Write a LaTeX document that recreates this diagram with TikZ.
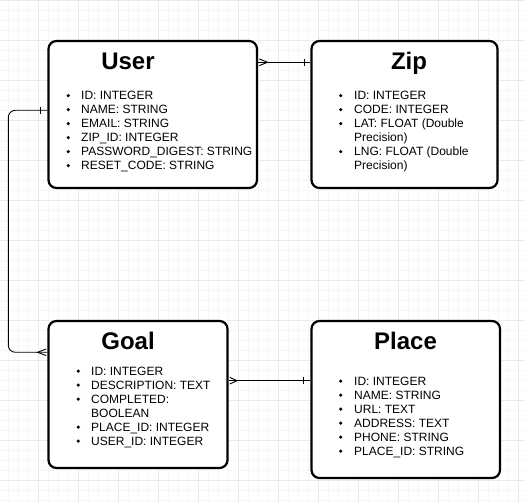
\documentclass[tikz,border=0pt]{standalone}
\usepackage{fontspec}
\setmainfont{Liberation Sans}
\usetikzlibrary{calc}
\definecolor{gridmajor}{HTML}{EAEAEA}
\definecolor{gridminor}{HTML}{F6F6F6}
\begin{document}
\begin{tikzpicture}[x=1pt,y=-1pt,
  entity/.style={draw=black, line width=2.2pt, rounded corners=8pt, fill=white, inner sep=0pt},
  etitle/.style={font=\fontsize{24}{24}\selectfont\bfseries, anchor=base, inner sep=0pt},
  item/.style={font=\fontsize{12}{14}\selectfont, anchor=base west, inner sep=0pt},
  conn/.style={draw=black, line width=0.9pt},
  bul/.style={fill=black}]
\useasboundingbox (0,0) rectangle (525,502);
% grid
\foreach \x in {8.5,18.5,...,518.5} \draw[gridminor, line width=1pt] (\x,0) -- (\x,502);
\foreach \y in {10.5,20.5,...,500.5} \draw[gridminor, line width=1pt] (0,\y) -- (525,\y);
\foreach \x in {38.5,78.5,...,518.5} \draw[gridmajor, line width=1pt] (\x,0) -- (\x,502);
\foreach \y in {0.5,40.5,...,480.5} \draw[gridmajor, line width=1pt] (0,\y) -- (525,\y);

% entities
\node[entity, minimum width=208.5pt, minimum height=147pt] (user) at (152.75,114.5) {};
\node[entity, minimum width=186pt, minimum height=147pt] (zip) at (404.5,114.5) {};
\node[entity, minimum width=179pt, minimum height=147pt] (goal) at (138,394.5) {};
\node[entity, minimum width=188.5pt, minimum height=157pt] (place) at (405.75,399.5) {};

% titles
\node[etitle] (usert) at (128,69.5) {User};
\node[etitle] (zipt) at (409,69.5) {Zip};
\node[etitle] (goalt) at (128,349.5) {Goal};
\node[etitle] (placet) at (405.5,349.5) {Place};

% User items
\foreach \t [count=\i from 0] in {ID: INTEGER, NAME: STRING, EMAIL: STRING, ZIP\_ID: INTEGER, PASSWORD\_DIGEST: STRING, RESET\_CODE: STRING} {
  \node[item] (useri\i) at (81,{100+14*\i}) {\t};
  \fill[bul] (68.3,{95.6+14*\i}) circle (1.75pt);
}
% Zip items
\node[item] (zipi0) at (354,100) {ID: INTEGER};
\node[item] (zipi1) at (354,114) {CODE: INTEGER};
\node[item] (zipi2) at (354,128) {LAT: FLOAT (Double};
\node[item] (zipi3) at (354,142) {Precision)};
\node[item] (zipi4) at (354,156) {LNG: FLOAT (Double};
\node[item] (zipi5) at (354,170) {Precision)};
\foreach \y in {100,114,128,156} \fill[bul] (340.7,\y-4.4) circle (1.75pt);
% Goal items
\node[item] (goali0) at (91,375.5) {ID: INTEGER};
\node[item] (goali1) at (91,389.5) {DESCRIPTION: TEXT};
\node[item] (goali2) at (91,403.5) {COMPLETED:};
\node[item] (goali3) at (91,417.5) {BOOLEAN};
\node[item] (goali4) at (91,431.5) {PLACE\_ID: INTEGER};
\node[item] (goali5) at (91,445.5) {USER\_ID: INTEGER};
\foreach \y in {375.5,389.5,403.5,431.5,445.5} \fill[bul] (78.3,\y-4.4) circle (1.75pt);
% Place items
\foreach \t [count=\i from 0] in {ID: INTEGER, NAME: STRING, URL: TEXT, ADDRESS: TEXT, PHONE: STRING, PLACE\_ID: STRING} {
  \node[item] (placei\i) at (354,{385.5+14*\i}) {\t};
  \fill[bul] (340.7,{381.1+14*\i}) circle (1.75pt);
}

% connector User -> Zip
\coordinate (c1a) at (user.east |- 0,62.3);
\coordinate (c1b) at (zip.west |- 0,62.3);
\draw[conn] (c1a) -- (c1b);
\draw[conn] ($(c1a)+(1.2,-3.3)$) -- ($(c1a)+(9.5,0)$) -- ($(c1a)+(1.2,3.3)$);
\draw[conn] ($(c1b)+(-6.2,-3.6)$) -- ($(c1b)+(-6.2,3.6)$);

% connector User -> Goal
\coordinate (c2a) at (user.west |- 0,110.3);
\coordinate (c2b) at (goal.west |- 0,352.3);
\draw[conn, rounded corners=7pt] (c2a) -- (8.3,110.3) -- (8.3,352.3) -- (c2b);
\draw[conn] ($(c2a)+(-7.3,-3.6)$) -- ($(c2a)+(-7.3,3.6)$);
\draw[conn] ($(c2b)+(-1.2,-3.3)$) -- ($(c2b)+(-9.8,0)$) -- ($(c2b)+(-1.2,3.3)$);

% connector Goal -> Place
\coordinate (c3a) at (goal.east |- 0,380.7);
\coordinate (c3b) at (place.west |- 0,380.7);
\draw[conn] (c3a) -- (c3b);
\draw[conn] ($(c3a)+(1.2,-3.3)$) -- ($(c3a)+(8.5,0)$) -- ($(c3a)+(1.2,3.3)$);
\draw[conn] ($(c3b)+(-7.2,-3.6)$) -- ($(c3b)+(-7.2,3.6)$);
\end{tikzpicture}
\end{document}
